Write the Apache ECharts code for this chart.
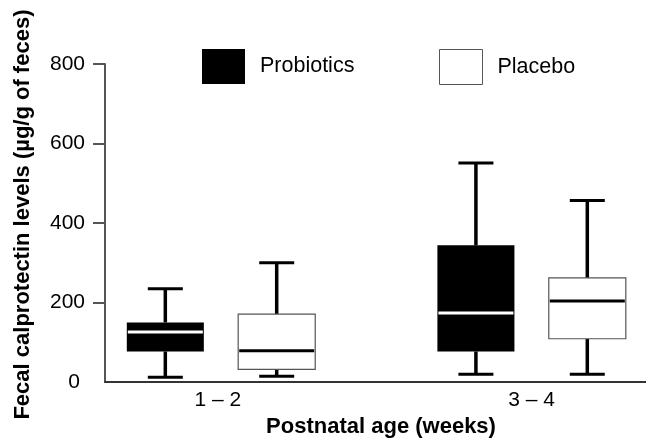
<!DOCTYPE html>
<html>
<head>
<meta charset="utf-8">
<script src="https://cdn.jsdelivr.net/npm/echarts@6/dist/echarts.min.js"></script>
<style>
html,body{margin:0;padding:0;background:#fff;}
#chart{width:646px;height:443px;}
</style>
</head>
<body>
<div id="chart"></div>
<script>
// Data: [min, Q1, median, Q3, max] per age group
const categories = ['1 \u2013 2', '3 \u2013 4'];
const probiotics = [[12, 77, 126, 150, 235], [20, 77, 174, 344, 551]];
const placebo = [[15, 32, 79, 171, 300], [20, 109, 204, 262, 457]];
const yTicks = [0, 200, 400, 600, 800];

const FONT = "'Liberation Sans', Arial, Helvetica, sans-serif";
const OFFSET = 0.1793;   // box centre offset from group centre (axis units)
const BOX_W = 0.248;     // box width (axis units)
const CAP_W = 0.1127;    // whisker cap width (axis units)

function makeRender(offset, fill, boxStroke, medianColor) {
  return function (params, api) {
    const x = api.value(0) + offset;
    const mn = api.coord([x, api.value(1)]);
    const q1 = api.coord([x, api.value(2)]);
    const md = api.coord([x, api.value(3)]);
    const q3 = api.coord([x, api.value(4)]);
    const mx = api.coord([x, api.value(5)]);
    const hw = api.size([BOX_W, 0])[0] / 2;
    const cw = api.size([CAP_W, 0])[0] / 2;
    const cx = mn[0];
    const wStyle = { stroke: '#000', lineWidth: 3.5 };
    return {
      type: 'group',
      children: [
        { type: 'line', shape: { x1: cx, y1: q3[1], x2: cx, y2: mx[1] }, style: wStyle },
        { type: 'line', shape: { x1: cx, y1: q1[1], x2: cx, y2: mn[1] }, style: wStyle },
        { type: 'line', shape: { x1: cx - cw, y1: mx[1], x2: cx + cw, y2: mx[1] }, style: { stroke: '#000', lineWidth: 3 } },
        { type: 'line', shape: { x1: cx - cw, y1: mn[1], x2: cx + cw, y2: mn[1] }, style: { stroke: '#000', lineWidth: 3 } },
        { type: 'rect', shape: { x: cx - hw, y: q3[1], width: hw * 2, height: q1[1] - q3[1] },
          style: { fill: fill, stroke: boxStroke, lineWidth: boxStroke ? 1.2 : 0 } },
        { type: 'line', shape: { x1: cx - hw + 1, y1: md[1], x2: cx + hw - 1, y2: md[1] }, style: { stroke: medianColor, lineWidth: 3 } }
      ]
    };
  };
}

const probData = probiotics.map((d, i) => [i].concat(d));
const placData = placebo.map((d, i) => [i].concat(d));

const chart = echarts.init(document.getElementById('chart'), null, { renderer: 'canvas' });
chart.setOption({
  animation: false,
  backgroundColor: '#fff',
  grid: { left: 105, right: 0, top: 64, bottom: 59, containLabel: false },
  legend: [
    {
      left: 202, top: 49, padding: 0, itemWidth: 43, itemHeight: 35, selectedMode: false,
      icon: 'rect',
      data: [{ name: 'Probiotics', itemStyle: { color: '#000', borderWidth: 0 } }],
      textStyle: { fontFamily: FONT, fontSize: 21.5, color: '#000', padding: [0, 0, 0, 10] }
    },
    {
      left: 439, top: 49, padding: 0, itemWidth: 43, itemHeight: 35, selectedMode: false,
      icon: 'rect',
      data: [{ name: 'Placebo', itemStyle: { color: '#fff', borderColor: '#555', borderWidth: 1 } }],
      textStyle: { fontFamily: FONT, fontSize: 21.5, color: '#000', padding: [0, 0, 0, 10] }
    }
  ],
  xAxis: {
    type: 'value',
    min: -0.3735,
    max: 1.3683,
    name: 'Postnatal age (weeks)',
    nameLocation: 'middle',
    nameGap: 33,
    nameTextStyle: { fontFamily: FONT, fontSize: 22, fontWeight: 'bold', color: '#000', padding: [0, 0, 0, 11], verticalAlign: 'top' },
    axisLine: { show: true, onZero: false, lineStyle: { color: '#333', width: 2 } },
    axisTick: { show: false },
    splitLine: { show: false },
    axisLabel: {
      customValues: [-0.01, 1.0],
      formatter: function (v) { return categories[v < 0.5 ? 0 : 1]; },
      fontFamily: FONT, fontSize: 21, color: '#000', margin: 8
    }
  },
  yAxis: {
    type: 'value',
    min: 0,
    max: 800,
    interval: 200,
    name: 'Fecal calprotectin levels (\u00b5g/g of feces)',
    nameLocation: 'middle',
    nameRotate: 90,
    nameGap: 71,
    nameTextStyle: { fontFamily: FONT, fontSize: 22, fontWeight: 'bold', color: '#000', padding: [0, 0, 0, 17] },
    axisLine: { show: true, onZero: false, lineStyle: { color: '#555', width: 2 } },
    axisTick: { show: true, length: 12, customValues: yTicks.slice(1), lineStyle: { color: '#555', width: 2 } },
    splitLine: { show: false },
    axisLabel: {
      fontFamily: FONT, fontSize: 21, color: '#000', margin: 20, customValues: yTicks,
      formatter: function (v) { return v === 0 ? '{z|0}' : String(v); },
      rich: { z: { fontFamily: FONT, fontSize: 21, color: '#000', padding: [0, 5, 0, 0] } }
    }
  },
  series: [
    {
      name: 'Probiotics', type: 'custom',
      itemStyle: { color: '#000' },
      renderItem: makeRender(-OFFSET, '#000', null, '#fff'),
      encode: { x: 0, y: [1, 2, 3, 4, 5] },
      data: probData
    },
    {
      name: 'Placebo', type: 'custom',
      itemStyle: { color: '#fff', borderColor: '#555', borderWidth: 1 },
      renderItem: makeRender(OFFSET, '#fff', '#555', '#000'),
      encode: { x: 0, y: [1, 2, 3, 4, 5] },
      data: placData
    }
  ]
});
</script>
</body>
</html>
